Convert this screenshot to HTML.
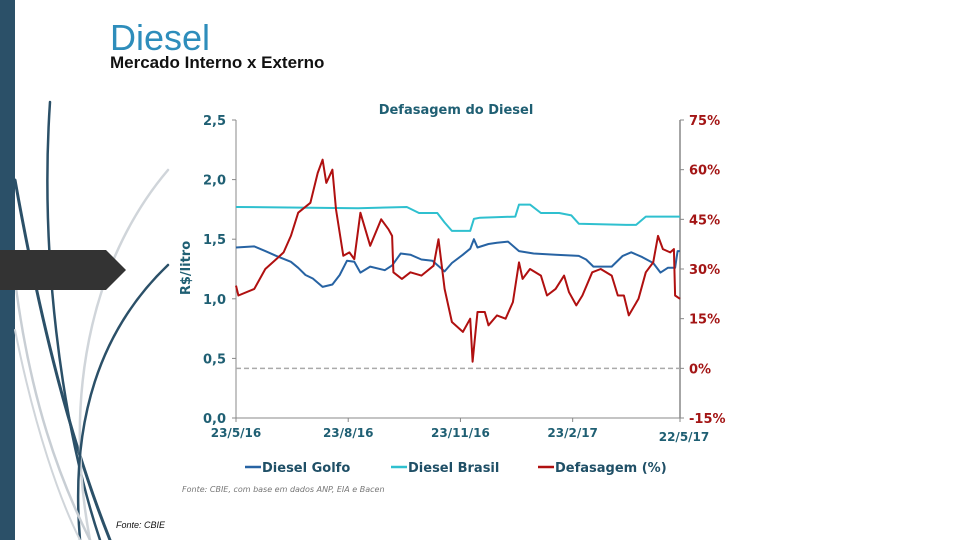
<!DOCTYPE html>
<html><head><meta charset="utf-8"><style>
body{margin:0;width:960px;height:540px;overflow:hidden;background:#fff;font-family:"Liberation Sans",sans-serif;position:relative}
</style></head><body>
<svg width="960" height="540" style="position:absolute;left:0;top:0">
<rect x="0" y="0" width="15" height="540" fill="#2b5068"/>
<g fill="none" stroke-linecap="round">
<path d="M50 102 C40 250 60 420 100 540" stroke="#2b5068" stroke-width="2.5"/>
<path d="M15 180 C40 320 70 440 110 540" stroke="#2b5068" stroke-width="3"/>
<path d="M168 170 C100 250 60 380 90 540" stroke="#d0d5da" stroke-width="2.5"/>
<path d="M168 265 C100 330 70 420 80 540" stroke="#2b5068" stroke-width="2.5"/>
<path d="M15 280 C30 400 60 480 90 540" stroke="#c8ced4" stroke-width="2.5"/>
<path d="M15 330 C35 430 60 500 80 540" stroke="#d0d5da" stroke-width="2"/>
</g>
<polygon points="0,250 106,250 126,270 106,290 0,290" fill="#333333"/>
</svg>
<div style="position:absolute;left:110px;top:18px;font-size:36px;color:#2e8dbb;line-height:40px">Diesel</div>
<div style="position:absolute;left:110px;top:53px;font-size:17px;font-weight:bold;color:#111">Mercado Interno x Externo</div>
<div style="position:absolute;left:116px;top:520px;font-size:9px;font-style:italic;color:#111">Fonte: CBIE</div>
<svg id="chart" width="960" height="540" style="position:absolute;left:0;top:0;font-family:'DejaVu Sans',sans-serif"></svg>
<script>
const goldDays=[0,15,24,33,45,51,57,63,71,79,85,91,97,102,110,122,128,135,143,152,161,171,177,186,192,195,198,207,214,223,232,244,262,281,287,293,308,317,324,333,342,348,354,360,362,364];
const goldVals=[1.43,1.44,1.40,1.36,1.31,1.26,1.20,1.17,1.10,1.12,1.20,1.32,1.31,1.22,1.27,1.24,1.28,1.38,1.37,1.33,1.32,1.23,1.30,1.37,1.42,1.50,1.43,1.46,1.47,1.48,1.40,1.38,1.37,1.36,1.33,1.27,1.27,1.36,1.39,1.35,1.30,1.22,1.26,1.26,1.40,1.40];
const brDays=[0,100,140,150,165,171,177,192,195,200,229,232,241,250,265,275,281,320,328,336,364];
const brVals=[1.77,1.76,1.77,1.72,1.72,1.64,1.57,1.57,1.67,1.68,1.69,1.79,1.79,1.72,1.72,1.70,1.63,1.62,1.62,1.69,1.69];
const defDays=[0,2,15,24,33,39,45,51,61,67,71,74,79,82,88,93,97,102,110,119,125,128,129,136,143,152,162,166,171,177,186,192,194,198,204,207,214,221,227,232,235,241,250,255,262,269,273,279,284,292,299,308,313,318,322,330,336,342,346,350,356,359,360,364];
const defVals=[25,22,24,30,33,35,40,47,50,59,63,56,60,48,34,35,33,47,37,45,42,40,29,27,29,28,31,39,24,14,11,15,2,17,17,13,16,15,20,32,27,30,28,22,24,28,23,19,22,29,30,28,22,22,16,21,29,32,40,36,35,36,22,21];
const leftTicks=["0,0","0,5","1,0","1,5","2,0","2,5"];
const rightTicks=["-15%","0%","15%","30%","45%","60%","75%"];
const xLabels=["23/5/16","23/8/16","23/11/16","23/2/17","22/5/17"];
const xLabelDays=[0,92,184,276,364];

const X0=236,X1=680,Y0=418,Y1=120;
const xs=d=>X0+d/364*(X1-X0);
const yl=v=>Y0-v/2.5*(Y0-Y1);
const yr=p=>Y0-(p+15)/90*(Y0-Y1);
const svg=document.getElementById('chart');
const NS='http://www.w3.org/2000/svg';
function mk(t,a,txt){const e=document.createElementNS(NS,t);for(const k in a)e.setAttribute(k,a[k]);if(txt!==undefined)e.textContent=txt;svg.appendChild(e);return e;}
const teal='#1f5f73',red='#a31515';
let t=mk('text',{x:456,y:114,'text-anchor':'middle','font-size':13,'font-weight':'bold',fill:'#1f5f73'},'Defasagem do Diesel');


let a=mk('line',{x1:X0,y1:Y1,x2:X0,y2:Y0,stroke:'#888','stroke-width':1});


a=mk('line',{x1:X1,y1:Y1,x2:X1,y2:Y0,stroke:'#888','stroke-width':1.5});


a=mk('line',{x1:X0,y1:Y0,x2:X1,y2:Y0,stroke:'#888','stroke-width':1});


leftTicks.forEach((s,i)=>{const y=yl(i*0.5);
 mk('line',{x1:X0-4,y1:y,x2:X0,y2:y,stroke:'#888'});
 const e=mk('text',{x:X0-10,y:y+5,'text-anchor':'end','font-size':13,'font-weight':'bold',fill:teal},s);
 
 });
rightTicks.forEach((s,i)=>{const y=yr(-15+i*15);
 mk('line',{x1:X1,y1:y,x2:X1+4,y2:y,stroke:'#888'});
 const e=mk('text',{x:X1+9,y:y+5,'font-size':13,'font-weight':'bold',fill:red},s);
 
 });
xLabels.forEach((s,i)=>{const x=xs(xLabelDays[i]);
 mk('line',{x1:x,y1:Y0,x2:x,y2:Y0+4,stroke:'#888'});
 const e=mk('text',{x:i==4?x+4:x,y:i==4?441:437,'text-anchor':'middle','font-size':12,'font-weight':'bold',fill:teal},s);
 
 });
let yt=mk('text',{x:190,y:268,'text-anchor':'middle','font-size':13,'font-weight':'bold',fill:teal,transform:'rotate(-90 190 268)'},'R$/litro');


let z=mk('line',{x1:X0,y1:yr(0),x2:X1,y2:yr(0),stroke:'#aaa','stroke-width':1.5,'stroke-dasharray':'5,3'});


function line(days,vals,fy,col,name){const d=days.map((dd,i)=>(i?'L':'M')+xs(dd).toFixed(1)+' '+fy(vals[i]).toFixed(1)).join(' ');
 const p=mk('path',{d:d,fill:'none',stroke:col,'stroke-width':2,'stroke-linejoin':'round'});
 
 }
line(brDays,brVals,yl,'#2fc0cf','series-diesel-brasil');
line(goldDays,goldVals,yl,'#2763a3','series-diesel-golfo');
line(defDays,defVals,yr,'#b01010','series-defasagem');
[["Diesel Golfo",'#2763a3',245],["Diesel Brasil",'#2fc0cf',391],["Defasagem (%)",'#b01010',538]].forEach(l=>{
 const g=mk('line',{x1:l[2],y1:467,x2:l[2]+16,y2:467,stroke:l[1],'stroke-width':2.5});
 
 
 const e=mk('text',{x:l[2]+17,y:472,'font-size':13,'font-weight':'bold',fill:'#1f4f66'},l[0]);
 
 });
let src=mk('text',{x:182,y:492,'font-size':8,'font-style':'italic',fill:'#777'},'Fonte: CBIE, com base em dados ANP, EIA e Bacen');


</script>
</body></html>
